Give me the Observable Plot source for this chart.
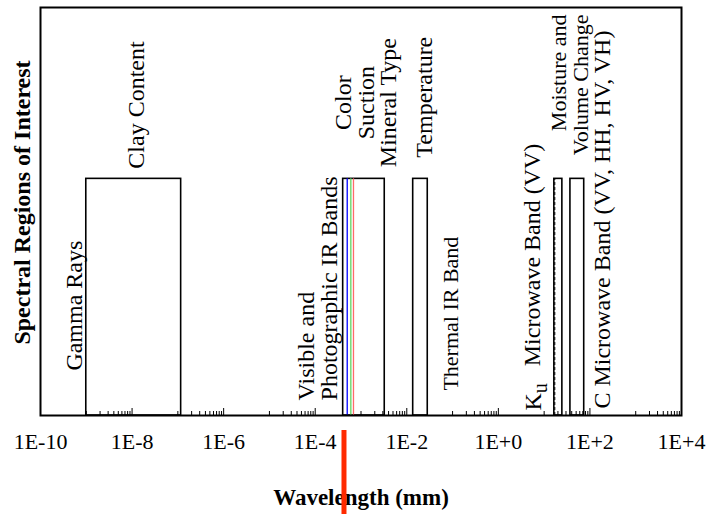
<!DOCTYPE html>
<html>
<head>
<meta charset="utf-8">
<script src="https://cdn.jsdelivr.net/npm/d3@7"></script>
<script src="https://cdn.jsdelivr.net/npm/@observablehq/plot@0.6"></script>
<style>
  html, body { margin: 0; padding: 0; background: #fff; }
</style>
</head>
<body>
<div id="chart"></div>
<script>
// ---- data ----
const tickValues = [1e-10, 1e-8, 1e-6, 1e-4, 1e-2, 1e0, 1e2, 1e4];
const tickLabels = ["1E-10", "1E-8", "1E-6", "1E-4", "1E-2", "1E+0", "1E+2", "1E+4"];
const minorDecades = [1e-9, 1e-7, 1e-5, 1e-3, 1e-1, 1e1, 1e3];
const minorMultipliers = [1, 2, 3, 4, 5, 6, 7, 8, 9];

const bandNames  = ["Gamma / Clay", "Visible & Photographic IR", "Thermal IR", "Ku Microwave", "C Microwave"];
const bandStart  = [1e-9, 4.08e-4, 1.38e-2, 16.7, 37.5];   // mm
const bandEnd    = [1.18e-7, 3.3e-3, 2.87e-2, 25, 75];     // mm
const bandLevel  = [0.58, 0.58, 0.58, 0.58, 0.58];

const colorLineNames = ["blue", "green", "red"];
const colorLineWavelength = [5.0e-4, 6.0e-4, 6.85e-4];
const colorLineColor = ["#0000ff", "#5fd35f", "#ff6a6a"];

const kuInnerLine = [17.1];
const markerWavelength = [4.25e-4];

const labelTexts = [
  "Gamma Rays", "Clay Content", "Visible and\nPhotographic IR Bands",
  "Color\nSuction\nMineral Type", "Temperature", "Thermal IR Band",
  "Ku Microwave Band (VV)", "Moisture and\nVolume Change", "C Microwave Band (VV, HH, HV, VH)"
];
const labelX = [5.61e-10, 1.25e-8, 1.17e-4, 1.31e-3, 2.43e-2, 9.3e-2, 5.84, 37.5, 187];
const labelY = [0.110, 0.605, 0.037, 0.767, 0.632, 0.061, 0.012, 0.983, 0.017];
const labelAnchor = ["start", "start", "start", "middle", "start", "start", "start", "end", "start"];
const labelSize = [24, 24, 24, 24, 24, 22, 24, 22, 24];

// ---- tables ----
const bands = bandNames.map((name, i) => ({name, start: bandStart[i], end: bandEnd[i], level: bandLevel[i]}));
const colorLines = colorLineNames.map((name, i) => ({name, wavelength: colorLineWavelength[i], color: colorLineColor[i], level: bandLevel[1]}));
const minorTicks = minorDecades.flatMap(d => minorMultipliers.map(m => d * m));
const labels = labelTexts.map((text, i) => ({text, x: labelX[i], y: labelY[i], anchor: labelAnchor[i], size: labelSize[i]}));

const serif = "'Liberation Serif', 'Times New Roman', Times, serif";
const labelOpts = {x: "x", y: "y", text: "text", rotate: -90, lineAnchor: "middle", fill: "#000"};
const labelMarks = [];
for (const anchor of ["start", "middle", "end"]) {
  for (const size of [22, 24]) {
    const subset = labels.filter(d => d.anchor === anchor && d.size === size);
    if (subset.length) labelMarks.push(Plot.text(subset, {...labelOpts, textAnchor: anchor, fontSize: size, lineHeight: size === 22 ? 1.0 : 0.95}));
  }
}

const chart = Plot.plot({
  width: 708,
  height: 514,
  marginLeft: 40,
  marginRight: 27,
  marginTop: 7,
  marginBottom: 99,
  x: {type: "log", domain: [1e-10, 1e4]},
  y: {domain: [0, 1], axis: null},
  style: {fontFamily: serif, fontSize: "22px", color: "#000", background: "#fff", overflow: "visible"},
  marks: [
    Plot.rect(bands, {x1: "start", x2: "end", y1: 0, y2: "level", fill: "#fff", stroke: "#000", strokeWidth: 1.6}),
    Plot.ruleX(colorLines, {x: "wavelength", y1: 0, y2: "level", stroke: "color", strokeWidth: 1.3}),
    Plot.ruleX(kuInnerLine, {x: d => d, y1: 0, y2: bandLevel[3], stroke: "#000", strokeWidth: 1, strokeDasharray: "3,2"}),
    Plot.ruleX(minorTicks, {x: d => d, insetTop: 404, stroke: "#000", strokeWidth: 1}),
    Plot.ruleX(tickValues, {x: d => d, insetTop: 401, stroke: "#000", strokeWidth: 1}),
    Plot.frame({stroke: "#000", strokeWidth: 2}),
    Plot.axisX({ticks: tickValues, tickFormat: d => tickLabels[tickValues.indexOf(d)], tickSize: 0, tickPadding: 18, fontSize: 22, label: null}),
    ...labelMarks,
    Plot.text(["Spectral Regions of Interest"], {frameAnchor: "left", dx: -18, dy: -9, rotate: -90, textAnchor: "middle", fontSize: 24, fontWeight: "bold", lineAnchor: "middle", fill: "#000"}),
    Plot.text(["Wavelength (mm)"], {frameAnchor: "bottom", dy: 82, fontSize: 23, fontWeight: "bold", lineAnchor: "middle", fill: "#000"}),
    Plot.ruleX(markerWavelength, {x: d => d, insetTop: 423, insetBottom: -99, stroke: "#ff2a00", strokeWidth: 5})
  ]
});

// subscript "u" in K_u
d3.select(chart).selectAll("text").each(function() {
  if (this.textContent === "Ku Microwave Band (VV)") {
    const t = d3.select(this);
    t.text(null);
    t.append("tspan").text("K");
    t.append("tspan").attr("dy", "0.3em").attr("font-size", "20").text("u");
    t.append("tspan").attr("dy", "-0.3em").attr("dx", "11").text(" Microwave Band (VV)");
  }
});

document.getElementById("chart").appendChild(chart);
</script>
</body>
</html>
